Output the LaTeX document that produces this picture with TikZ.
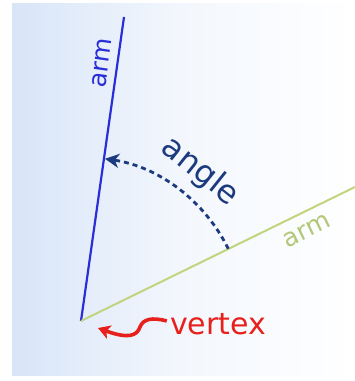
\documentclass[tikz,border=0pt]{standalone}
\usepackage{fontspec}
\setmainfont{DejaVu Sans}
\usepackage{xcolor}
\definecolor{armBlue}{HTML}{2A2ED6}
\definecolor{armGreen}{HTML}{C3D47E}
\definecolor{armGreenText}{HTML}{B4C777}
\definecolor{angleNavy}{HTML}{1C3A7E}
\definecolor{vertexRed}{HTML}{E8201C}
\definecolor{paneBlue}{HTML}{D8E5F8}
\usetikzlibrary{positioning, arrows.meta}

\begin{document}
\begin{tikzpicture}[
  x=1pt, y=1pt,
  bluearm/.style  = {draw=armBlue, line width=2.2pt},
  greenarm/.style = {draw=armGreen, line width=2pt},
  anglearc/.style = {draw=angleNavy, line width=2.8pt,
                     dash pattern=on 5pt off 4pt,
                     -{Stealth[length=14pt, width=14pt, inset=4pt]}},
  squig/.style    = {draw=vertexRed, line width=3.6pt,
                     -{Stealth[length=12pt, width=14pt, inset=3pt]}},
  armlabel/.style = {font=\fontsize{25}{25}\selectfont, inner sep=0pt},
]

% Background pane
\useasboundingbox (0,0) rectangle (355,381);
\shade[left color=paneBlue, right color=white, middle color=paneBlue!30]
  (12,5) rectangle (355,377);

% Vertex and arms
\coordinate (vertex) at (81,60);
\coordinate (bluetip) at (124,364);
\coordinate (greentip) at (355,194);
\draw[bluearm]  (vertex) -- (bluetip);
\draw[greenarm] (vertex) -- (greentip);

% Arm labels
\node[armlabel, text=armBlue, rotate=81.9] (armblue) at (102,318) {arm};
\node[armlabel, text=armGreenText, rotate=26.1] (armgreen) at (307,150) {arm};

% Angle arc
\coordinate (arcstart) at ([shift={(26.1:164)}]vertex);
\draw[anglearc] (arcstart) arc[start angle=26.1, end angle=81.6, radius=164];
\node[text=angleNavy, rotate=-38.6, font=\fontsize{32}{32}\selectfont,
      inner sep=0pt] (anglelabel) at ([shift={(51.4:191)}]vertex) {angle};

% Vertex label
\node[text=vertexRed, font=\fontsize{30}{30}\selectfont, inner sep=0pt]
  (vertexlabel) at (218,57) {vertex};
\coordinate (squigtip) at (98,53);
\draw[squig] ([xshift=-3pt, yshift=3pt]vertexlabel.west)
  .. controls (152,64) and (143,62) .. (140,54)
  .. controls (137,45) and (128,42) .. (squigtip);

\end{tikzpicture}
\end{document}
